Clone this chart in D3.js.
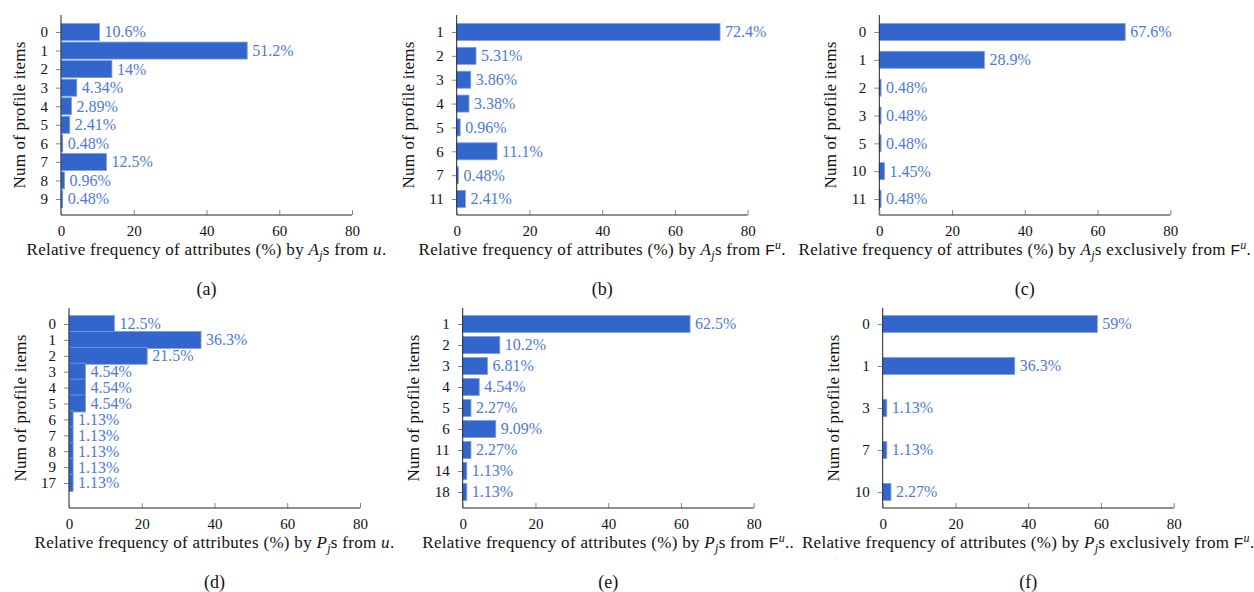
<!DOCTYPE html>
<html>
<head>
<meta charset="utf-8">
<script src="https://cdn.jsdelivr.net/npm/d3@7"></script>
<style>
  html, body { margin: 0; padding: 0; background: #fff; }
  svg { display: block; }
  text { font-family: "Liberation Serif", "Times New Roman", serif; }
</style>
</head>
<body>
<svg id="chart" width="1254" height="592"></svg>
<script>
// ---- data -------------------------------------------------------------
const xTicks = [0, 20, 40, 60, 80];

const aCats = ["0", "1", "2", "3", "4", "5", "6", "7", "8", "9"];
const aVals = [10.6, 51.2, 14, 4.34, 2.89, 2.41, 0.48, 12.5, 0.96, 0.48];

const bCats = ["1", "2", "3", "4", "5", "6", "7", "11"];
const bVals = [72.4, 5.31, 3.86, 3.38, 0.96, 11.1, 0.48, 2.41];

const cCats = ["0", "1", "2", "3", "5", "10", "11"];
const cVals = [67.6, 28.9, 0.48, 0.48, 0.48, 1.45, 0.48];

const dCats = ["0", "1", "2", "3", "4", "5", "6", "7", "8", "9", "17"];
const dVals = [12.5, 36.3, 21.5, 4.54, 4.54, 4.54, 1.13, 1.13, 1.13, 1.13, 1.13];

const eCats = ["1", "2", "3", "4", "5", "6", "11", "14", "18"];
const eVals = [62.5, 10.2, 6.81, 4.54, 2.27, 9.09, 2.27, 1.13, 1.13];

const fCats = ["0", "1", "3", "7", "10"];
const fVals = [59, 36.3, 1.13, 1.13, 2.27];

const yTitle = "Num of profile items";

// x-axis titles as runs of text (italic, subscript, superscript, sans)
const titleA = [{t: "Relative frequency of attributes (%) by "}, {t: "A", it: 1}, {t: "j", it: 1, sub: 1}, {t: "s from "}, {t: "u", it: 1}, {t: "."}];
const titleB = [{t: "Relative frequency of attributes (%) by "}, {t: "A", it: 1}, {t: "j", it: 1, sub: 1}, {t: "s from "}, {t: "F", sans: 1}, {t: "u", it: 1, sup: 1}, {t: "."}];
const titleC = [{t: "Relative frequency of attributes (%) by "}, {t: "A", it: 1}, {t: "j", it: 1, sub: 1}, {t: "s exclusively from "}, {t: "F", sans: 1}, {t: "u", it: 1, sup: 1}, {t: "."}];
const titleD = [{t: "Relative frequency of attributes (%) by "}, {t: "P", it: 1}, {t: "j", it: 1, sub: 1}, {t: "s from "}, {t: "u", it: 1}, {t: "."}];
const titleE = [{t: "Relative frequency of attributes (%) by "}, {t: "P", it: 1}, {t: "j", it: 1, sub: 1}, {t: "s from "}, {t: "F", sans: 1}, {t: "u", it: 1, sup: 1}, {t: ".."}];
const titleF = [{t: "Relative frequency of attributes (%) by "}, {t: "P", it: 1}, {t: "j", it: 1, sub: 1}, {t: "s exclusively from "}, {t: "F", sans: 1}, {t: "u", it: 1, sup: 1}, {t: "."}];

// ---- layout -----------------------------------------------------------
const AXIS_W = 291;
const BAR_H = 17;
const VAL_FONT = 16;
const TICK_FONT = 15;
const TITLE_FONT = 17;
const BAR_FILL = "#3366cc";
const BAR_EDGE = "#7d9de6";
const LABEL_COLOR = "#4d79dc";

const panels = [
  {cap: "(a)", cats: aCats, vals: aVals, title: titleA, x0: 61,    top: 15,  bottom: 215, padT: 17, padB: 16},
  {cap: "(b)", cats: bCats, vals: bVals, title: titleB, x0: 456.7, top: 15,  bottom: 215, padT: 17, padB: 16},
  {cap: "(c)", cats: cCats, vals: cVals, title: titleC, x0: 879.3, top: 15,  bottom: 215, padT: 17, padB: 16},
  {cap: "(d)", cats: dCats, vals: dVals, title: titleD, x0: 69,    top: 308, bottom: 508, padT: 16, padB: 25},
  {cap: "(e)", cats: eCats, vals: eVals, title: titleE, x0: 462.7, top: 308, bottom: 508, padT: 16, padB: 16},
  {cap: "(f)", cats: fCats, vals: fVals, title: titleF, x0: 882.7, top: 308, bottom: 508, padT: 16, padB: 16}
];

const svg = d3.select("#chart");

function writeRuns(textSel, runs) {
  let shift = 0; // current baseline offset
  runs.forEach(r => {
    const ts = textSel.append("tspan").text(r.t);
    let target = 0;
    if (r.sub) target = 4;
    if (r.sup) target = -6;
    if (target !== shift) { ts.attr("dy", target - shift); shift = target; }
    if (r.sub || r.sup) ts.attr("font-size", 12);
    if (r.it) ts.attr("font-style", "italic");
    if (r.sans) ts.attr("font-family", "'Liberation Sans', Arial, sans-serif").attr("font-size", 15.5);
  });
}

panels.forEach(p => {
  const g = svg.append("g");
  const x = d3.scaleLinear().domain([0, 80]).range([p.x0, p.x0 + AXIS_W]);
  const y = d3.scalePoint().domain(p.cats).range([p.top + p.padT, p.bottom - p.padB]);
  const rows = p.cats.map((c, i) => ({cat: c, val: p.vals[i]}));

  // bars
  g.selectAll("rect.bar").data(rows).join("rect")
    .attr("class", "bar")
    .attr("x", x(0))
    .attr("y", d => y(d.cat) - BAR_H / 2)
    .attr("width", d => x(d.val) - x(0))
    .attr("height", BAR_H)
    .attr("fill", BAR_FILL)
    .attr("stroke", BAR_EDGE)
    .attr("stroke-width", 0.8);

  // value labels
  g.selectAll("text.val").data(rows).join("text")
    .attr("class", "val")
    .attr("x", d => x(d.val) + 5)
    .attr("y", d => y(d.cat))
    .attr("dy", "0.34em")
    .attr("font-size", VAL_FONT)
    .attr("fill", LABEL_COLOR)
    .text(d => d.val + "%");

  // y axis
  const yAxis = d3.axisLeft(y).tickSize(5).tickPadding(8);
  const ya = g.append("g").attr("transform", `translate(${p.x0},0)`).call(yAxis);
  ya.select(".domain").remove();
  ya.selectAll(".tick line").attr("stroke", "#888");
  ya.selectAll(".tick text").attr("font-size", TICK_FONT).attr("font-family", "Liberation Serif, serif").attr("fill", "#111");
  g.append("line")
    .attr("x1", p.x0).attr("x2", p.x0)
    .attr("y1", p.top).attr("y2", p.bottom)
    .attr("stroke", "#222").attr("stroke-width", 1);

  // x axis (ticks pointing inward)
  const xAxis = d3.axisBottom(x).tickValues(xTicks).tickSize(-5).tickPadding(10);
  const xa = g.append("g").attr("transform", `translate(0,${p.bottom})`).call(xAxis);
  xa.select(".domain").remove();
  xa.selectAll(".tick line").attr("stroke", "#888");
  xa.selectAll(".tick text").attr("font-size", TICK_FONT).attr("font-family", "Liberation Serif, serif").attr("fill", "#111");
  g.append("line")
    .attr("x1", p.x0).attr("x2", p.x0 + AXIS_W)
    .attr("y1", p.bottom).attr("y2", p.bottom)
    .attr("stroke", "#222").attr("stroke-width", 1);

  // y title placed left of the widest tick label
  let maxW = 0;
  ya.selectAll(".tick text").each(function () { maxW = Math.max(maxW, this.getComputedTextLength()); });
  const tx = p.x0 - 13 - maxW - 21;
  const ty = (p.top + p.bottom) / 2;
  g.append("text")
    .attr("transform", `translate(${tx},${ty}) rotate(-90)`)
    .attr("text-anchor", "middle")
    .attr("dy", "0.34em")
    .attr("font-size", TITLE_FONT)
    .attr("letter-spacing", 0.2)
    .attr("fill", "#111")
    .text(yTitle);

  // x title
  const cx = p.x0 + AXIS_W / 2;
  const xt = g.append("text")
    .attr("x", cx)
    .attr("y", p.bottom + 40)
    .attr("text-anchor", "middle")
    .attr("font-size", TITLE_FONT)
    .attr("letter-spacing", 0.3)
    .attr("fill", "#111");
  writeRuns(xt, p.title);

  // sub-caption
  g.append("text")
    .attr("x", cx)
    .attr("y", p.bottom + 80)
    .attr("text-anchor", "middle")
    .attr("font-size", 18)
    .attr("fill", "#111")
    .text(p.cap);
});
</script>
</body>
</html>
